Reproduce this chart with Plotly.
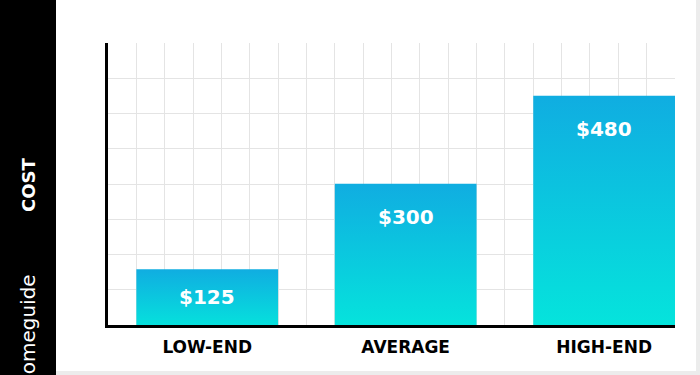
import plotly.graph_objects as go

# ---- data ----
categories = ["LOW-END", "AVERAGE", "HIGH-END"]
costs = [125, 300, 480]
cost_labels = ["$125", "$300", "$480"]
axis_title = "COST"
brand = "homeguide"

# ---- layout constants ----
W, H = 700, 375
L, R, T, B = 108, 25, 43, 50
PW, PH = W - L - R, H - T - B
bar_width = 5 / 7
x_range = [-0.5, -0.5 + 20 / 7]
y_tick0, y_dtick = 11, 72.1
y_range = [y_tick0, y_tick0 + 8 * y_dtick]

top_color = "#10ade1"
bottom_color = "#05e5dc"
grid_color = "#e4e4e4"
font_family = "DejaVu Sans"


def xp(px):
    return (px - L) / PW


def yp(py):
    return (H - B - py) / PH


px_per_unit = PH / (y_range[1] - y_range[0])

fig = go.Figure()

for i, (cat, val) in enumerate(zip(categories, costs)):
    x0, x1 = i - bar_width / 2, i + bar_width / 2
    fig.add_trace(go.Scatter(
        x=[x0, x0, x1, x1, x0],
        y=[0, val, val, 0, 0],
        mode="lines",
        line=dict(width=0),
        fill="toself",
        fillgradient=dict(type="vertical",
                          colorscale=[[0, bottom_color], [1, top_color]]),
        name=cat,
        hoverinfo="skip",
        showlegend=False,
    ))
    bar_px = (val - y_range[0]) * px_per_unit
    fig.add_annotation(
        x=i, y=val, xref="x", yref="y",
        text=cost_labels[i], showarrow=False,
        yshift=-min(33, bar_px / 2), xanchor="center", yanchor="middle",
        font=dict(family=font_family, size=20, color="white", weight="bold"),
    )

# left black band and light frame
fig.add_shape(type="rect", xref="paper", yref="paper",
              x0=xp(0), x1=xp(56), y0=yp(H), y1=yp(0),
              fillcolor="black", line=dict(width=0), layer="below")
fig.add_shape(type="rect", xref="paper", yref="paper",
              x0=xp(56), x1=xp(W), y0=yp(H), y1=yp(371),
              fillcolor="#ececec", line=dict(width=0), layer="below")
fig.add_shape(type="rect", xref="paper", yref="paper",
              x0=xp(696), x1=xp(W), y0=yp(H), y1=yp(0),
              fillcolor="#ececec", line=dict(width=0), layer="below")

fig.add_annotation(
    x=xp(28), y=yp(185), xref="paper", yref="paper",
    text=axis_title, textangle=-90, showarrow=False,
    xanchor="center", yanchor="middle",
    font=dict(family=font_family, size=18, color="white", weight="bold"),
)
fig.add_annotation(
    x=xp(28), y=yp(331), xref="paper", yref="paper",
    text=brand, textangle=-90, showarrow=False,
    xanchor="center", yanchor="middle",
    font=dict(family=font_family, size=20, color="white"),
)

fig.update_layout(
    width=W, height=H,
    margin=dict(l=L, r=R, t=T, b=B),
    paper_bgcolor="white", plot_bgcolor="white",
    showlegend=False,
    xaxis=dict(
        range=x_range,
        tickmode="array", tickvals=list(range(len(categories))),
        ticktext=categories,
        tickfont=dict(family=font_family, size=17, color="black", weight="bold"),
        showgrid=False, zeroline=False,
        showline=True, linecolor="black", linewidth=3,
        ticks="", ticklabelstandoff=5,
        minor=dict(tickmode="linear", tick0=x_range[0], dtick=1 / 7,
                   showgrid=True, gridcolor=grid_color, gridwidth=1, ticks=""),
        fixedrange=True,
    ),
    yaxis=dict(
        range=y_range,
        tick0=y_tick0, dtick=y_dtick,
        showgrid=True, gridcolor=grid_color, gridwidth=1,
        showticklabels=False, zeroline=False,
        showline=True, linecolor="black", linewidth=3,
        ticks="", fixedrange=True,
    ),
)

fig.write_html(
    "out.html",
    config={"displayModeBar": False},
    post_script="document.body.style.margin='0';document.body.style.overflow='hidden';",
)
